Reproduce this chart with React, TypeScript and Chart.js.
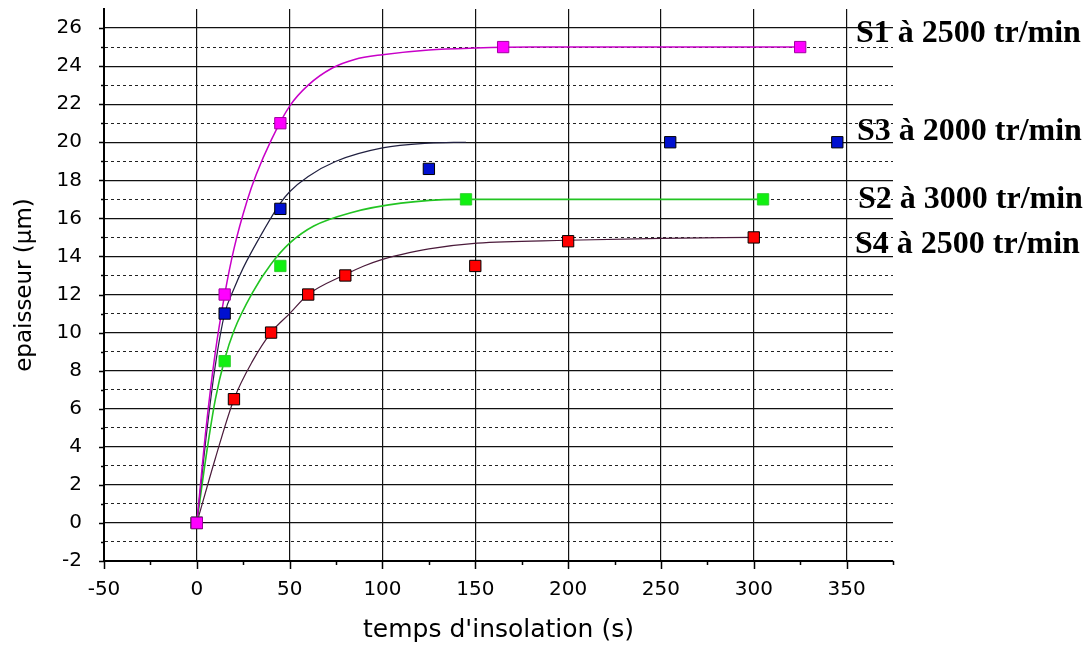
import { useEffect, useRef } from 'react';
import { Chart, registerables } from 'chart.js';

Chart.register(...registerables);

// Measured points (time in s, thickness in µm)
const s1Time = [0, 15, 45, 165, 325];
const s1Thick = [0, 12, 21, 25, 25];
const s3Time = [0, 15, 45, 125, 255, 345];
const s3Thick = [0, 11, 16.5, 18.6, 20, 20];
const s2Time = [0, 15, 45, 145, 305];
const s2Thick = [0, 8.5, 13.5, 17, 17];
const s4Time = [0, 20, 40, 60, 80, 150, 200, 300];
const s4Thick = [0, 6.5, 10, 12, 13, 13.5, 14.8, 15];

// Fitted curves
const s1FitTime = [0, 5, 10, 15, 20, 27, 32, 40, 50, 60, 73, 85, 100, 125, 150, 180, 325];
const s1FitThick = [0, 5, 9, 12, 14.4, 16.9, 18.3, 20.1, 21.9, 23.0, 23.9, 24.35, 24.6, 24.85, 24.95, 25, 25];
const s3FitTime = [0, 5, 10, 15, 20, 25, 35, 45, 50, 60, 75, 100, 125, 145];
const s3FitThick = [0, 4.5, 8.3, 11, 12.3, 13.4, 15.2, 16.8, 17.4, 18.2, 19.0, 19.7, 19.95, 20];
const s2FitTime = [0, 5, 10, 15, 20, 30, 40, 50, 63, 83, 110, 140, 305];
const s2FitThick = [0, 3.5, 6.5, 8.6, 10.1, 12.1, 13.6, 14.7, 15.6, 16.3, 16.8, 17, 17];
const s4FitTime = [0, 10, 20, 30, 40, 50, 60, 80, 90, 100, 110, 125, 151, 200, 250, 300];
const s4FitThick = [0, 3.4, 6.5, 8.5, 10, 11, 12, 13.05, 13.5, 13.85, 14.1, 14.4, 14.7, 14.85, 14.95, 15];

const seriesLabels = ['S1 à 2500 tr/min', 'S3 à 2000 tr/min', 'S2 à 3000 tr/min', 'S4 à 2500 tr/min'];
const xTitle = "temps d'insolation (s)";
const yTitle = 'epaisseur (µm)';

const xMin = -50;
const xMax = 375;
const yMin = -2;
const yMax = 27;

const zip = (xs: number[], ys: number[]) => xs.map((x, i) => ({ x, y: ys[i] }));

const labelBaselines = [42, 140, 208, 253];
const labelLeft = [856, 857, 858, 855];

const extrasPlugin = {
  id: 'extras',
  afterDraw(chart: any) {
    const { ctx, chartArea, scales } = chart;
    const x = scales.x;
    const y = scales.y;
    ctx.save();
    ctx.strokeStyle = '#000';
    ctx.lineWidth = 1.5;
    ctx.beginPath();
    x.ticks.forEach((t: any) => {
      const px = Math.round(x.getPixelForValue(t.value)) + 0.5;
      const len = t.value % 50 === 0 ? 8 : 4;
      ctx.moveTo(px, chartArea.bottom);
      ctx.lineTo(px, chartArea.bottom + len);
    });
    y.ticks.forEach((t: any) => {
      if (t.value === yMax) return;
      const py = Math.round(y.getPixelForValue(t.value)) + 0.5;
      const len = t.value % 2 === 0 ? 5 : 3;
      ctx.moveTo(chartArea.left, py);
      ctx.lineTo(chartArea.left - len, py);
    });
    ctx.stroke();

    ctx.fillStyle = '#000';
    ctx.font = 'bold 32px "Liberation Serif", "Times New Roman", serif';
    ctx.textBaseline = 'alphabetic';
    ctx.textAlign = 'left';
    seriesLabels.forEach((txt, i) => {
      ctx.fillText(txt, labelLeft[i], labelBaselines[i]);
    });
    ctx.restore();
  },
};

export default function App() {
  const ref = useRef<HTMLCanvasElement | null>(null);

  useEffect(() => {
    if (!ref.current) return;
    const gridColor = (c: any) => {
      const v = c.tick ? c.tick.value : 0;
      if (v === yMax) return 'rgba(0,0,0,0)';
      return v % 2 === 0 ? '#111' : '#222';
    };
    const chart = new Chart(ref.current, {
      type: 'scatter',
      data: {
        datasets: [
          {
            label: 'S1 points',
            data: zip(s1Time, s1Thick),
            showLine: false,
            pointStyle: 'rect',
            pointRadius: 8,
            backgroundColor: '#ff00ff',
            borderColor: '#a000a0',
            borderWidth: 1,
            order: 1,
          },
          {
            label: 'S3 points',
            data: zip(s3Time, s3Thick),
            showLine: false,
            pointStyle: 'rect',
            pointRadius: 8,
            backgroundColor: '#0010d0',
            borderColor: '#000',
            borderWidth: 1,
            order: 2,
          },
          {
            label: 'S2 points',
            data: zip(s2Time, s2Thick),
            showLine: false,
            pointStyle: 'rect',
            pointRadius: 8,
            backgroundColor: '#10f010',
            borderColor: '#30d030',
            borderWidth: 1,
            order: 3,
          },
          {
            label: 'S4 points',
            data: zip(s4Time, s4Thick),
            showLine: false,
            pointStyle: 'rect',
            pointRadius: 8,
            backgroundColor: '#ff0000',
            borderColor: '#000',
            borderWidth: 1,
            order: 4,
          },
          {
            label: 'S1 fit',
            data: zip(s1FitTime, s1FitThick),
            showLine: true,
            pointRadius: 0,
            borderColor: '#c800c8',
            borderWidth: 1.5,
            cubicInterpolationMode: 'monotone',
            order: 5,
          },
          {
            label: 'S3 fit',
            data: zip(s3FitTime, s3FitThick),
            showLine: true,
            pointRadius: 0,
            borderColor: '#202040',
            borderWidth: 1.2,
            cubicInterpolationMode: 'monotone',
            order: 6,
          },
          {
            label: 'S2 fit',
            data: zip(s2FitTime, s2FitThick),
            showLine: true,
            pointRadius: 0,
            borderColor: '#22c422',
            borderWidth: 1.6,
            cubicInterpolationMode: 'monotone',
            order: 7,
          },
          {
            label: 'S4 fit',
            data: zip(s4FitTime, s4FitThick),
            showLine: true,
            pointRadius: 0,
            borderColor: '#4a1a3a',
            borderWidth: 1.2,
            cubicInterpolationMode: 'monotone',
            order: 8,
          },
        ],
      },
      options: {
        animation: false,
        responsive: false,
        maintainAspectRatio: false,
        layout: { padding: { left: 0, top: 7, right: 195, bottom: 0 } },
        plugins: {
          legend: { display: false },
          tooltip: { enabled: false },
        },
        scales: {
          x: {
            type: 'linear',
            min: xMin,
            max: xMax,
            afterFit: (s: any) => {
              s.height = 84;
              s.paddingLeft = 0;
              s.paddingRight = 0;
            },
            ticks: {
              stepSize: 25,
              autoSkip: false,
              maxRotation: 0,
              padding: 17,
              color: '#000',
              font: { family: '"DejaVu Sans", sans-serif', size: 20 },
              callback: (v: any) => (Number(v) % 50 === 0 ? String(v) : ''),
            },
            grid: {
              drawTicks: false,
              color: (c: any) => {
                const v = c.tick ? c.tick.value : 1;
                return v % 50 === 0 ? '#111' : 'rgba(0,0,0,0)';
              },
              lineWidth: 1.2,
            },
            border: { display: true, color: '#000', width: 2 },
            title: {
              display: true,
              text: xTitle,
              color: '#000',
              font: { family: '"DejaVu Sans", sans-serif', size: 25 },
              padding: { top: 0, bottom: 0 },
            },
          },
          y: {
            type: 'linear',
            min: yMin,
            max: yMax,
            afterFit: (s: any) => {
              s.width = 104;
              s.paddingTop = 0;
              s.paddingBottom = 0;
            },
            ticks: {
              stepSize: 1,
              autoSkip: false,
              padding: 22,
              color: '#000',
              font: { family: '"DejaVu Sans", sans-serif', size: 20 },
              callback: (v: any) => (Number(v) % 2 === 0 && Number(v) !== yMax ? String(v) : ''),
            },
            grid: {
              drawTicks: false,
              color: gridColor,
              lineWidth: (c: any) => ((c.tick ? c.tick.value : 0) % 2 === 0 ? 1.2 : 1),
            },
            border: {
              display: true,
              color: '#000',
              width: 2,
              dash: (c: any) => (c.tick && Math.abs(c.tick.value % 2) === 1 ? [3, 3] : []),
            },
            title: {
              display: true,
              text: yTitle,
              color: '#000',
              font: { family: '"DejaVu Sans", sans-serif', size: 23 },
              padding: { top: 11, bottom: 0 },
            },
          },
        },
      },
      plugins: [extrasPlugin],
    } as any);
    return () => chart.destroy();
  }, []);

  return (
    <div style={{ position: 'fixed', left: 0, top: 0, width: 1088, height: 645, background: '#fff' }}>
      <canvas ref={ref} width={1088} height={645} style={{ display: 'block' }} />
    </div>
  );
}
